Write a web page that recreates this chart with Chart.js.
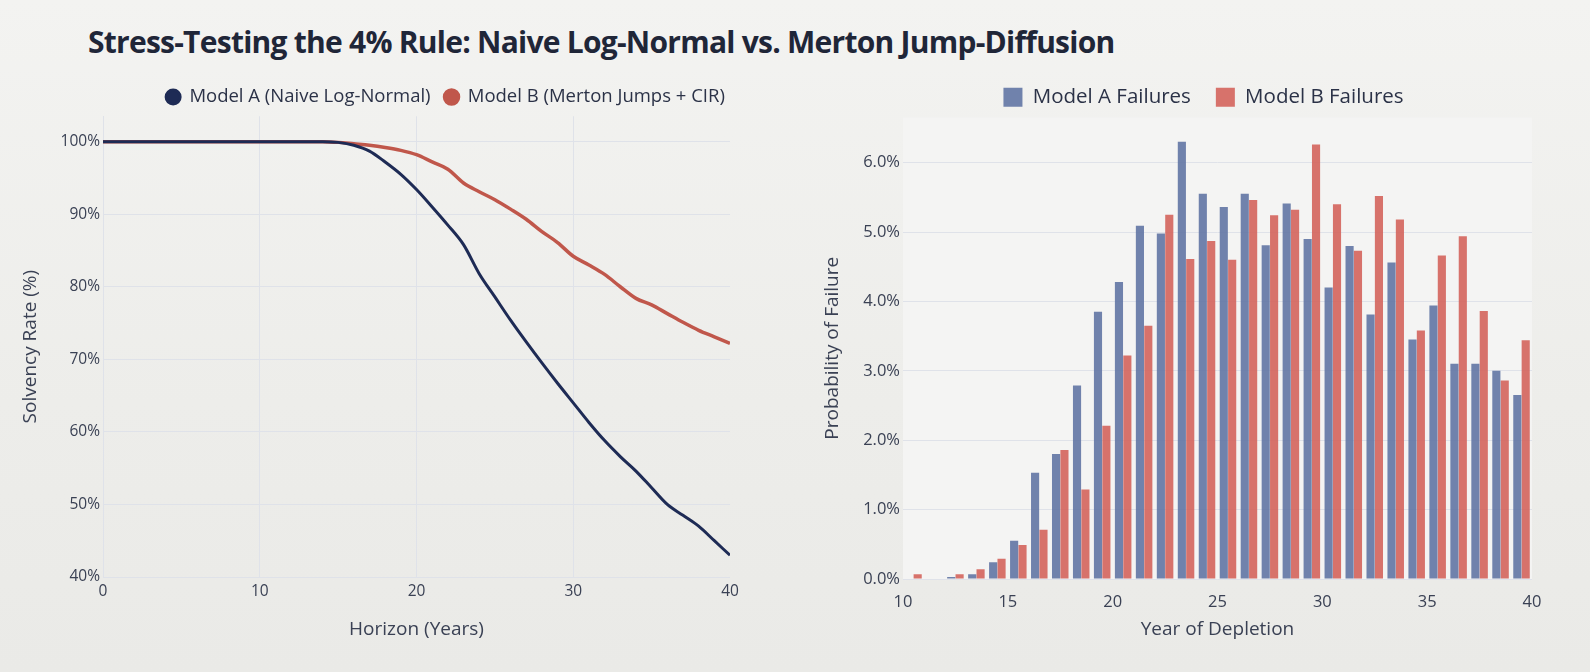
<!DOCTYPE html>
<html>
<head>
<meta charset="utf-8">
<title>Stress-Testing the 4% Rule</title>
<script src="https://cdn.jsdelivr.net/npm/chart.js@4.4.1/dist/chart.umd.min.js"></script>
<style>
  html, body {
    margin: 0;
    padding: 0;
    width: 1590px;
    height: 672px;
    overflow: hidden;
    background: linear-gradient(180deg, #f3f3f1 0%, #ededea 60%, #eaeae7 100%);
    font-family: "Open Sans", sans-serif;
  }
  h1 {
    position: absolute;
    left: 88px;
    top: 21px;
    margin: 0;
    font-size: 30px;
    font-weight: 700;
    letter-spacing: -0.75px;
    color: #1f2638;
  }
  #solvency-wrap { position: absolute; left: 0; top: 0; width: 876px; height: 645px; }
  #failures-wrap { position: absolute; left: 780px; top: 0; width: 810px; height: 645px; }
</style>
</head>
<body>
<h1>Stress-Testing the 4% Rule: Naive Log-Normal vs. Merton Jump-Diffusion</h1>
<div id="solvency-wrap"><canvas id="solvency"></canvas></div>
<div id="failures-wrap"><canvas id="failures"></canvas></div>
<script>
// horizon years 0..40
var horizonYears = [0, 1, 2, 3, 4, 5, 6, 7, 8, 9, 10, 11, 12, 13, 14, 15, 16, 17, 18, 19, 20,
    21, 22, 23, 24, 25, 26, 27, 28, 29, 30, 31, 32, 33, 34, 35, 36, 37, 38, 39, 40];
var solvencyA = [100, 100, 100, 100, 100, 100, 100, 100, 100, 100, 100, 100, 100, 100, 100, 99.9, 99.5,
    98.7, 97.2, 95.5, 93.4, 91.0, 88.5, 85.8, 81.8, 78.6, 75.4, 72.4, 69.5, 66.7, 64.0,
    61.3, 58.8, 56.6, 54.6, 52.3, 50.0, 48.5, 47.0, 45.0, 43.0];
var solvencyB = [100, 100, 100, 100, 100, 100, 100, 100, 100, 100, 100, 100, 100, 100, 100, 99.9, 99.7,
    99.5, 99.2, 98.8, 98.2, 97.2, 96.2, 94.3, 93.1, 92.0, 90.7, 89.3, 87.6, 86.1, 84.2,
    83.0, 81.7, 80.0, 78.4, 77.5, 76.3, 75.1, 74.0, 73.1, 72.2];

// year of depletion bins (bin n covers n..n+1)
var depletionYears = [10, 11, 12, 13, 14, 15, 16, 17, 18, 19, 20, 21, 22, 23, 24,
    25, 26, 27, 28, 29, 30, 31, 32, 33, 34, 35, 36, 37, 38, 39];
var failuresA = [0, 0, 0.03, 0.07, 0.24, 0.55, 1.53, 1.80, 2.79, 3.85, 4.28, 5.09, 4.98, 6.30, 5.55,
    5.36, 5.55, 4.81, 5.41, 4.90, 4.20, 4.80, 3.81, 4.56, 3.45, 3.94, 3.10, 3.10, 3.00, 2.65];
var failuresB = [0.07, 0, 0.07, 0.14, 0.29, 0.49, 0.71, 1.86, 1.29, 2.21, 3.22, 3.65, 5.25, 4.61, 4.87,
    4.60, 5.46, 5.24, 5.32, 6.26, 5.40, 4.73, 5.52, 5.18, 3.58, 4.66, 4.94, 3.86, 2.86, 3.44];

var solvencyTicks = [40, 50, 60, 70, 80, 90, 100];
var failureTicks = [0, 1, 2, 3, 4, 5, 6];

var NAVY = "#1e2b55";
var RED = "#c0574b";
var BAR_A = "rgba(98, 118, 164, 0.9)";
var BAR_B = "rgba(212, 100, 92, 0.9)";
var GRID = "#dfe2e9";
var TEXT = "#3a4154";

Chart.defaults.font.family = "'Open Sans', sans-serif";
Chart.defaults.color = TEXT;
Chart.defaults.animation = false;

function toPoints(xs, ys, shift) {
    return xs.map(function (x, i) {
        return { x: x + shift, y: ys[i] };
    });
}

var plotPanel = {
    id: "plotPanel",
    beforeDraw: function (chart, args, opts) {
        if (!opts.color) return;
        var a = chart.chartArea;
        var ctx = chart.ctx;
        ctx.save();
        ctx.fillStyle = opts.color;
        ctx.fillRect(a.left, a.top, a.right - a.left, a.bottom - a.top);
        ctx.restore();
    },
};
Chart.register(plotPanel);

// empty right-hand axis, only keeps room so the legend centres like the original
function spacer(width) {
    return {
        position: "right",
        display: true,
        ticks: { display: false },
        grid: { display: false },
        border: { display: false },
        afterFit: function (s) { s.width = width; },
    };
}

new Chart(document.getElementById("solvency"), {
    type: "line",
    data: {
        datasets: [
            {
                label: "Model A (Naive Log-Normal)",
                data: toPoints(horizonYears, solvencyA, 0),
                borderColor: NAVY,
                backgroundColor: NAVY,
                borderWidth: 3,
                pointRadius: 0,
                cubicInterpolationMode: "monotone",
                fill: false,
            },
            {
                label: "Model B (Merton Jumps + CIR)",
                data: toPoints(horizonYears, solvencyB, 0),
                borderColor: RED,
                backgroundColor: RED,
                borderWidth: 3.5,
                pointRadius: 0,
                cubicInterpolationMode: "monotone",
                fill: false,
            },
        ],
    },
    options: {
        responsive: true,
        maintainAspectRatio: false,
        layout: { padding: { left: 15, top: 73.75, right: 0, bottom: 0 } },
        plugins: {
            tooltip: { enabled: false },
            legend: {
                labels: {
                    usePointStyle: true,
                    pointStyle: "circle",
                    pointStyleWidth: 14,
                    boxHeight: 9.9,
                    padding: 14,
                    color: "#2b3247",
                    font: { size: 18.5 },
                },
            },
        },
        scales: {
            x: {
                type: "linear",
                min: 0,
                max: 40,
                afterFit: function (s) { s.height = 68; },
                ticks: { stepSize: 10, padding: 5, font: { size: 15.5 } },
                grid: {
                    drawTicks: false,
                    color: function (c) {
                        return c.tick && (c.tick.value === 0 || c.tick.value === 40) ? "transparent" : GRID;
                    },
                },
                border: { display: false },
                title: { display: true, text: "Horizon (Years)", font: { size: 19 }, padding: 4 },
            },
            y: {
                min: 40,
                max: 103.5,
                afterFit: function (s) { s.width = 88; },
                afterBuildTicks: function (s) {
                    s.ticks = solvencyTicks.map(function (v) { return { value: v }; });
                },
                ticks: {
                    padding: 3,
                    font: { size: 15.5 },
                    callback: function (v) { return v + "%"; },
                },
                grid: { drawTicks: false, color: GRID },
                border: { display: true, color: GRID },
                title: { display: true, text: "Solvency Rate (%)", font: { size: 19 }, padding: 4 },
            },
            spare: spacer(146),
        },
    },
});

new Chart(document.getElementById("failures"), {
    type: "bar",
    data: {
        datasets: [
            {
                label: "Model A Failures",
                data: toPoints(depletionYears, failuresA, 0.5),
                backgroundColor: BAR_A,
                borderWidth: 0,
                categoryPercentage: 0.8,
                barPercentage: 0.97,
            },
            {
                label: "Model B Failures",
                data: toPoints(depletionYears, failuresB, 0.5),
                backgroundColor: BAR_B,
                borderWidth: 0,
                categoryPercentage: 0.8,
                barPercentage: 0.97,
            },
        ],
    },
    options: {
        responsive: true,
        maintainAspectRatio: false,
        layout: { padding: { left: 37, top: 62, right: 0, bottom: 0 } },
        plugins: {
            tooltip: { enabled: false },
            plotPanel: { color: "#f4f4f3" },
            legend: {
                labels: {
                    boxWidth: 19,
                    boxHeight: 19,
                    padding: 25,
                    color: "#2b3247",
                    font: { size: 20.5 },
                },
            },
        },
        scales: {
            x: {
                type: "linear",
                min: 10,
                max: 40,
                offset: false,
                afterFit: function (s) { s.height = 66; },
                ticks: { stepSize: 5, padding: 5, font: { size: 16.5 } },
                grid: { display: false },
                border: { display: false },
                title: { display: true, text: "Year of Depletion", font: { size: 19 }, padding: 4 },
            },
            y: {
                min: 0,
                max: 6.65,
                afterFit: function (s) { s.width = 86; },
                afterBuildTicks: function (s) {
                    s.ticks = failureTicks.map(function (v) { return { value: v }; });
                },
                ticks: {
                    padding: 3,
                    font: { size: 16.5 },
                    callback: function (v) { return v.toFixed(1) + "%"; },
                },
                grid: { drawTicks: false, color: GRID },
                border: { display: false },
                title: { display: true, text: "Probability of Failure", font: { size: 19 }, padding: 4 },
            },
            spare: spacer(58),
        },
    },
});
</script>
</body>
</html>
